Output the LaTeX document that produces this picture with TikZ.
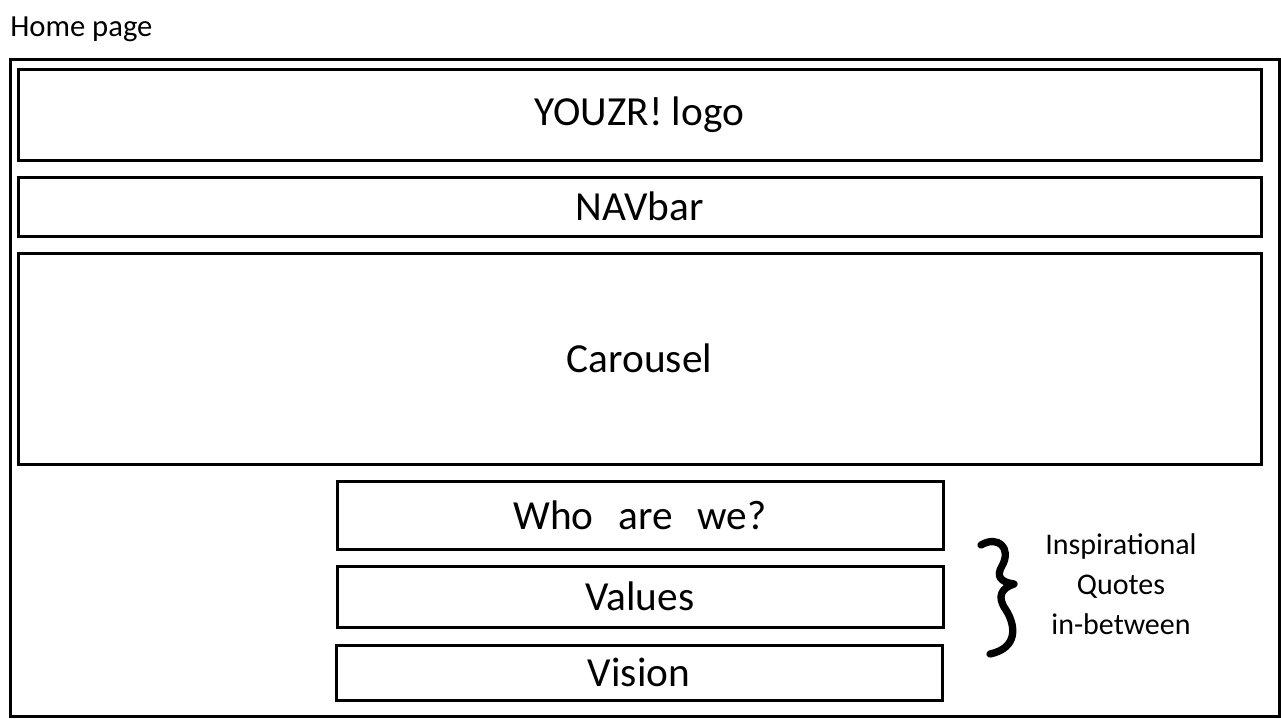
\documentclass[tikz,border=0pt]{standalone}
\usepackage{fontspec}
\setmainfont{Carlito}
\usepackage{tikz}
\usetikzlibrary{positioning}

\begin{document}
\begin{tikzpicture}[
  x=0.75pt, y=-0.75pt,
  box/.style={draw=black, line width=2.25pt, inner sep=0pt,
              font=\fontsize{31}{34}\selectfont},
  note/.style={font=\fontsize{22.5}{30}\selectfont, align=center, inner sep=0pt},
]
  \useasboundingbox (0,0) rectangle (1281,718);

  % page title and frame
  \node[anchor=west, font=\fontsize{23}{26}\selectfont, inner sep=0pt] (title) at (10,29) {Home page};
  \node[box, minimum width=951.75pt, minimum height=492.75pt] (page) at (644.5,387.5) {};

  % header blocks
  \node[box, minimum width=932.25pt, minimum height=68.25pt] (logo) at (639.5,114.5) {YOUZR! logo};
  \node[box, minimum width=932.25pt, minimum height=44.25pt] (nav) at (639.5,206.5) {NAVbar};
  \node[box, minimum width=932.25pt, minimum height=158.25pt] (carousel) at (639.5,358.5) {Carousel};

  % content sections
  \node[box, minimum width=454.5pt, minimum height=51pt] (who) at (640,515) {Who\hspace{0.6em}are\hspace{0.6em}we?};
  \node[box, minimum width=454.5pt, minimum height=45.75pt] (values) at (640,596.5) {Values};
  \node[box, minimum width=454.5pt, minimum height=41.25pt] (vision) at (639,672.5) {Vision};

  % quotes note
  \draw[line width=5.5pt, line cap=round, line join=round]
    (981,545) .. controls (998,535) and (1012,548) .. (1002,566)
    .. controls (996,576) and (1000,582) .. (1014,584)
    .. controls (1002,588) and (996,596) .. (1006,610)
    .. controls (1016,626) and (1018,648) .. (990,654);
  \node[note] (quotes) at (1121,584) {Inspirational\\Quotes\\in-between};
\end{tikzpicture}
\end{document}
